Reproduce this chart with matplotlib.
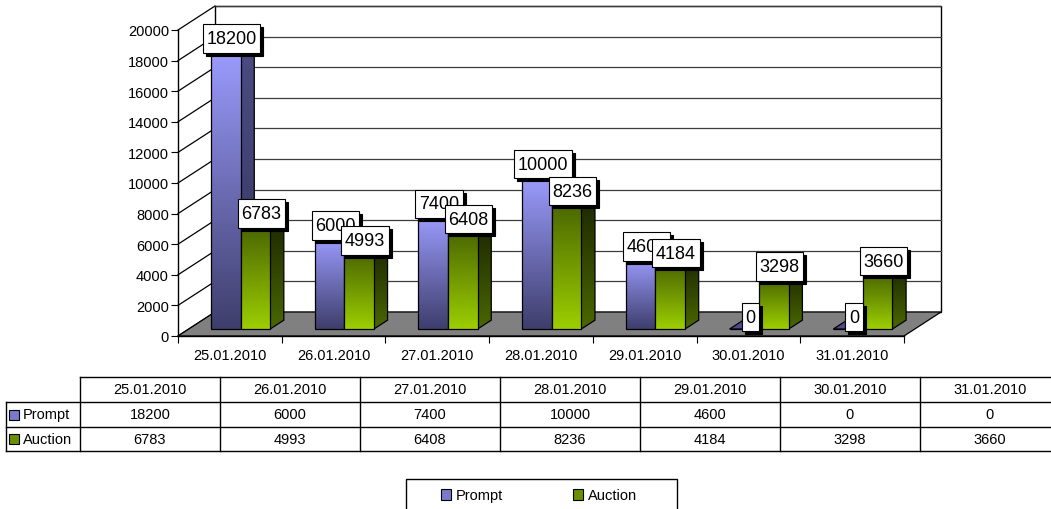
import numpy as np
import matplotlib
matplotlib.use("Agg")
import matplotlib.pyplot as plt
from matplotlib.patches import Polygon, Rectangle, Patch
from matplotlib.lines import Line2D
from matplotlib.colors import LinearSegmentedColormap
from matplotlib.transforms import IdentityTransform, ScaledTranslation

dates = ["25.01.2010", "26.01.2010", "27.01.2010", "28.01.2010",
         "29.01.2010", "30.01.2010", "31.01.2010"]
series = ["Prompt", "Auction"]
prompt = [18200, 6000, 7400, 10000, 4600, 0, 0]
auction = [6783, 4993, 6408, 8236, 4184, 3298, 3660]
yticks = np.arange(0, 20001, 2000)

plt.rcParams["font.family"] = ["Liberation Sans", "DejaVu Sans"]
W, H, DPI = 1051, 510, 100
FS = 10.5
DEPTH = np.array([37.0, 24.0])   # floor depth in px (x right, y up)
D0, D1 = 0.29, 0.66              # bar front / back as fraction of floor depth
BW = 0.285                       # bar width in category units

# colour ramps, bottom -> top
cm_front = [LinearSegmentedColormap.from_list("bf", ["#3e3e6c", "#6c6cb4", "#9c9cff"]),
            LinearSegmentedColormap.from_list("gf", ["#9ccf00", "#739a00", "#4a6500"])]
cm_side = [LinearSegmentedColormap.from_list("bs", ["#36365e", "#4c4c84"]),
           LinearSegmentedColormap.from_list("gs", ["#4a6800", "#1c2600"])]
top_col = ["#4b4b8e", "#80a800"]
key_col = ["#7a7acc", "#6a8f00"]
grad = np.linspace(0, 1, 256).reshape(-1, 1)

fig = plt.figure(figsize=(W / DPI, H / DPI), dpi=DPI)
fig.patch.set_facecolor("white")

# pixel-space axes for the data table and legend
tab = fig.add_axes([0, 0, 1, 1])
tab.set_xlim(0, W); tab.set_ylim(H, 0); tab.axis("off")

ax = fig.add_axes([178 / W, 173 / H, 726 / W, 306 / H])
ax.set_xlim(-0.5, 6.5); ax.set_ylim(0, 20000); ax.set_autoscale_on(False)
ax.patch.set_visible(False)
for s in ["top", "right"]:
    ax.spines[s].set_visible(False)
for s in ["left", "bottom"]:
    ax.spines[s].set_linewidth(1.0); ax.spines[s].set_zorder(1.5)


def P(x, y, d=0.0):
    return ax.transData.transform((x, y)) + d * DEPTH


def shifted(d):
    return ax.transData + ScaledTranslation(d * DEPTH[0] / DPI, d * DEPTH[1] / DPI, fig.dpi_scale_trans)


def poly(pts, **kw):
    p = Polygon(pts, closed=True, transform=IdentityTransform(), clip_on=False, **kw)
    ax.add_patch(p)
    return p


def line(p, q, **kw):
    ax.add_line(Line2D([p[0], q[0]], [p[1], q[1]], transform=IdentityTransform(), clip_on=False, **kw))


# back wall, gridlines, side-wall lines, floor
poly([P(-0.5, 0, 1), P(6.5, 0, 1), P(6.5, 20000, 1), P(-0.5, 20000, 1)],
     facecolor="white", edgecolor="black", lw=1.0, zorder=0.5)
for v in yticks[1:]:
    line(P(-0.5, v, 1), P(6.5, v, 1), color="#3c3c3c", lw=0.9, zorder=0.6)
for v in yticks:
    line(P(-0.5, v, 0), P(-0.5, v, 1), color="black", lw=0.9, zorder=0.6)
poly([P(-0.5, 0, 0), P(6.5, 0, 0), P(6.5, 0, 1), P(-0.5, 0, 1)],
     facecolor="#808080", edgecolor="black", lw=0.9, zorder=0.7)

# bars
values = [prompt, auction]
z = 2.0
labels = []
for i in range(len(dates)):
    for s, vals in enumerate(values):
        v = vals[i]
        x0 = i - BW if s == 0 else i
        x1 = x0 + BW
        # side face
        side = poly([P(x1, 0, D0), P(x1, 0, D1), P(x1, v, D1), P(x1, v, D0)],
                    facecolor="none", edgecolor="black", lw=0.9, zorder=z + 0.02)
        if v > 0:
            ext = np.array([P(x1, 0, D0), P(x1, v, D1)])
            im = ax.imshow(grad, cmap=cm_side[s], origin="lower", aspect="auto",
                           extent=(ext[0, 0], ext[1, 0], ext[0, 1], ext[1, 1]),
                           transform=IdentityTransform(), interpolation="bilinear",
                           zorder=z + 0.01, clip_path=side)
            im.set_clip_box(fig.bbox)
        # top face
        poly([P(x0, v, D0), P(x1, v, D0), P(x1, v, D1), P(x0, v, D1)],
             facecolor=top_col[s], edgecolor="black", lw=0.9, zorder=z + 0.03)
        # front face
        tr = shifted(D0)
        rect = ax.bar(x0, v, BW, align="edge", transform=tr, facecolor="none",
                      edgecolor="black", lw=0.9, zorder=z + 0.05, clip_on=False)[0]
        if v > 0:
            im = ax.imshow(grad, cmap=cm_front[s], origin="lower", aspect="auto",
                           extent=(x0, x1, 0, v), transform=tr,
                           interpolation="bilinear", zorder=z + 0.04)
            im.set_clip_path(rect)
        labels.append((x0 + BW / 2, v))
        z += 0.1

# data labels with drop shadow
for k, (xc, v) in enumerate(labels):
    cx, cy = P(xc, v, (D0 + D1) / 2) + np.array([-1.0, 7.5])
    zz = 10 + k * 0.1
    for dx, dy, fc, zo in [(3, -3, "black", zz), (0, 0, "white", zz + 0.05)]:
        ax.text(cx + dx, cy + dy, f"{v}", transform=IdentityTransform(), ha="center",
                va="center", fontsize=13, color="black", zorder=zo, clip_on=False,
                bbox=dict(boxstyle="square,pad=0.2", mutation_aspect=1.6,
                          fc=fc, ec="black", lw=0.8))

# axes ticks
ax.set_yticks(yticks)
ax.tick_params(axis="y", length=5, width=0.8, pad=1.5, labelsize=FS, colors="black")
ax.set_xticks(range(len(dates)), dates)
ax.set_xticks(np.arange(-0.5, len(dates), 1), minor=True)
ax.tick_params(axis="x", which="major", length=0, pad=8.5, labelsize=FS)
ax.tick_params(axis="x", which="minor", length=5, width=0.8)

# data table
col_x = [80 + 140 * j for j in range(len(dates) + 1)]
row_y = [378, 403, 428, 452]
tkw = dict(color="black", lw=1.0)
tab.plot([col_x[0], col_x[-1]], [row_y[0]] * 2, **tkw)
for y in row_y[1:]:
    tab.plot([6, col_x[-1]], [y] * 2, **tkw)
tab.plot([6, 6], [row_y[1], row_y[-1]], **tkw)
for x in col_x:
    tab.plot([x, x], [row_y[0], row_y[-1]], **tkw)
for j, d in enumerate(dates):
    xc = col_x[j] + 70
    tab.text(xc, (row_y[0] + row_y[1]) / 2, d, ha="center", va="center", fontsize=FS)
    for s, vals in enumerate(values):
        tab.text(xc, (row_y[s + 1] + row_y[s + 2]) / 2, f"{vals[j]}",
                 ha="center", va="center", fontsize=FS)
for s, name in enumerate(series):
    yc = (row_y[s + 1] + row_y[s + 2]) / 2
    tab.add_patch(Rectangle((8.5, yc - 5), 10, 10, facecolor=key_col[s], edgecolor="black", lw=0.8))
    tab.text(22.5, yc, name, ha="left", va="center", fontsize=FS)

# legend
tab.add_patch(Rectangle((406, 480), 271, 40, fill=False, edgecolor="black", lw=1.0))
handles = [Patch(facecolor=key_col[s], edgecolor="black", lw=0.8) for s in range(2)]
tab.legend(handles, series, ncol=2, loc="center", bbox_to_anchor=(539, 496.5),
           bbox_transform=tab.transData, frameon=False, fontsize=FS,
           handlelength=0.7, handleheight=0.7, handletextpad=0.35,
           columnspacing=4.8, borderpad=0)

fig.savefig("out.png", dpi=DPI)
